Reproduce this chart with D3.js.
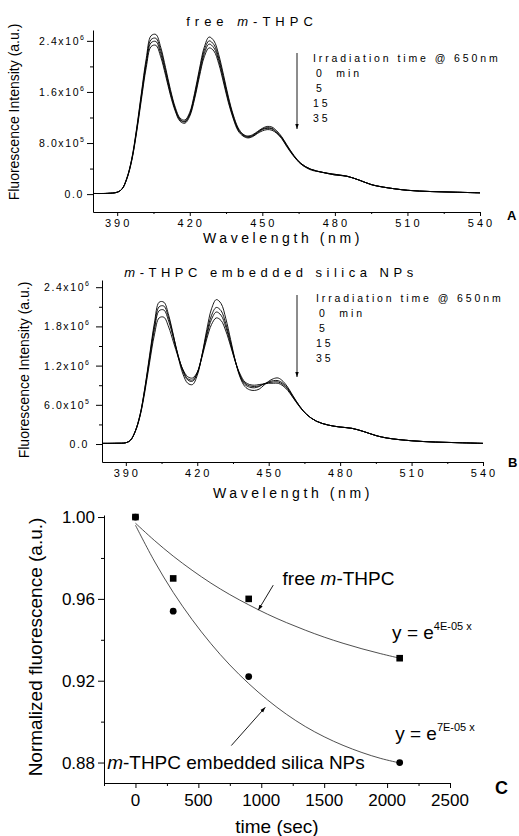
<!DOCTYPE html>
<html>
<head>
<meta charset="utf-8">
<script src="https://cdn.jsdelivr.net/npm/d3@7"></script>
<style>
body { margin: 0; background: #fff; }
svg { display: block; font-family: "Liberation Sans", Arial, sans-serif; }
.curve { fill: none; stroke: #000; stroke-width: 0.9; }
.fit { fill: none; stroke: #222; stroke-width: 0.8; }
.axis path, .axis line { stroke: #000; stroke-width: 1; }
</style>
</head>
<body>
<svg width="519" height="836"></svg>
<script>
// wavelength grid shared by both spectra (nm)
var wavelengths = [380,386,390,392,394,396,398,400,402,404,406,408,410,412,414,416,418,420,422,424,426,428,430,432,434,436,438,440,442,444,446,448,450,452,454,456,458,460,463,466,470,475,480,485,490,495,500,510,520,530,540];

// free m-THPC, intensity in 10^6 a.u.
var free0 = [0.01,0.012,0.03,0.08,0.25,0.55,1.02,1.58,2.12,2.48,2.50,2.30,1.98,1.64,1.36,1.19,1.16,1.28,1.58,1.96,2.30,2.46,2.40,2.18,1.86,1.52,1.24,1.04,0.94,0.91,0.93,0.98,1.03,1.06,1.05,0.99,0.90,0.78,0.61,0.48,0.39,0.34,0.31,0.28,0.22,0.15,0.11,0.06,0.04,0.03,0.02];
var free5 = [0.01,0.012,0.03,0.08,0.25,0.54,1.00,1.55,2.07,2.42,2.44,2.25,1.94,1.61,1.34,1.17,1.14,1.26,1.55,1.92,2.25,2.40,2.34,2.13,1.82,1.49,1.22,1.02,0.93,0.90,0.92,0.97,1.02,1.04,1.03,0.97,0.89,0.77,0.60,0.48,0.39,0.34,0.31,0.28,0.22,0.15,0.11,0.06,0.04,0.03,0.02];
var free15 = [0.01,0.012,0.03,0.08,0.24,0.53,0.98,1.52,2.03,2.37,2.39,2.20,1.90,1.58,1.32,1.16,1.13,1.24,1.52,1.88,2.20,2.35,2.29,2.09,1.78,1.46,1.20,1.01,0.92,0.89,0.91,0.96,1.01,1.03,1.02,0.96,0.88,0.76,0.60,0.47,0.39,0.34,0.30,0.28,0.22,0.15,0.11,0.06,0.04,0.03,0.02];
var free35 = [0.01,0.012,0.03,0.08,0.24,0.52,0.96,1.48,1.98,2.31,2.33,2.15,1.86,1.55,1.30,1.14,1.11,1.22,1.49,1.84,2.15,2.29,2.24,2.04,1.74,1.43,1.18,0.99,0.91,0.88,0.90,0.95,0.99,1.01,1.00,0.95,0.87,0.75,0.59,0.47,0.38,0.34,0.30,0.28,0.22,0.15,0.11,0.06,0.04,0.03,0.02];

// m-THPC embedded silica NPs, intensity in 10^6 a.u.
var nps0 = [0.01,0.012,0.02,0.06,0.20,0.45,0.86,1.36,1.85,2.17,2.17,1.97,1.66,1.33,1.07,0.93,0.91,1.05,1.36,1.75,2.07,2.21,2.15,1.92,1.60,1.27,1.02,0.88,0.83,0.82,0.84,0.90,0.96,1.00,1.01,0.96,0.87,0.75,0.58,0.45,0.35,0.29,0.26,0.24,0.19,0.13,0.09,0.05,0.03,0.02,0.01];
var nps5 = [0.01,0.012,0.02,0.06,0.20,0.45,0.85,1.33,1.80,2.10,2.11,1.93,1.65,1.35,1.11,0.98,0.96,1.08,1.36,1.70,1.97,2.09,2.04,1.84,1.56,1.27,1.04,0.91,0.87,0.86,0.88,0.92,0.95,0.97,0.97,0.93,0.85,0.74,0.58,0.45,0.35,0.29,0.26,0.24,0.19,0.13,0.09,0.05,0.03,0.02,0.01];
var nps15 = [0.01,0.012,0.02,0.06,0.20,0.44,0.83,1.30,1.75,2.04,2.05,1.88,1.62,1.35,1.13,1.00,0.98,1.09,1.35,1.66,1.91,2.02,1.97,1.79,1.53,1.26,1.05,0.93,0.89,0.88,0.89,0.92,0.94,0.95,0.95,0.91,0.84,0.73,0.57,0.45,0.35,0.29,0.26,0.24,0.19,0.13,0.09,0.05,0.03,0.02,0.01];
var nps35 = [0.01,0.012,0.02,0.06,0.19,0.43,0.80,1.25,1.67,1.93,1.94,1.79,1.56,1.33,1.14,1.03,1.01,1.10,1.33,1.61,1.83,1.93,1.89,1.73,1.50,1.26,1.07,0.95,0.91,0.90,0.91,0.92,0.93,0.93,0.93,0.89,0.82,0.72,0.57,0.45,0.35,0.29,0.26,0.24,0.19,0.13,0.09,0.05,0.03,0.02,0.01];

var irradLabels = ["0  min", "5", "15", "35"];
var xTicksSpec = [390, 420, 450, 480, 510, 540];
var xMinorSpec = [405, 435, 465, 495, 525];
var yTicksA = [0, 0.8, 1.6, 2.4];
var yMinorA = [0.4, 1.2, 2.0];
var yTicksB = [0, 0.6, 1.2, 1.8, 2.4];
var yMinorB = [0.3, 0.9, 1.5, 2.1];

// panel C: normalized fluorescence vs irradiation time
var timeSec = [0, 300, 900, 2100];
var freeNorm = [1.000, 0.970, 0.960, 0.931];
var npsNorm = [1.000, 0.954, 0.922, 0.880];
var fitTime = [0,150,300,450,600,750,900,1050,1200,1350,1500,1650,1800,1950,2100];
var freeFit = [0.997,0.9886,0.9809,0.9740,0.9677,0.9621,0.9571,0.9525,0.9484,0.9447,0.9413,0.9383,0.9356,0.9332,0.9310];
var npsFit = [0.996,0.9785,0.9632,0.9499,0.9381,0.9277,0.9186,0.9106,0.9036,0.8976,0.8926,0.8884,0.8849,0.8820,0.8798];
var xTicksC = [0, 500, 1000, 1500, 2000, 2500];
var xMinorC = [-250, 250, 750, 1250, 1750, 2250];
var yTicksC = [0.88, 0.92, 0.96, 1.00];
var yMinorC = [0.90, 0.94, 0.98];

var svg = d3.select("svg");

//arrow heads
var defs = svg.append("defs");
defs.append("marker")
    .attr("id", "head")
    .attr("viewBox", "0 0 10 10")
    .attr("refX", 10).attr("refY", 5)
    .attr("markerWidth", 6).attr("markerHeight", 6)
    .attr("orient", "auto")
    .append("path")
    .attr("d", "M0,1.5L10,5L0,8.5z")
    .attr("fill", "#000");

// 2.4 -> ["2.4x10", "6"]
function tickParts(v) {
    if (v === 0) return ["0.0", ""];
    var e = Math.floor(Math.log10(v * 1e6) + 1e-9);
    return [(v * 1e6 / Math.pow(10, e)).toFixed(1) + "x10", String(e)];
}

function drawSpectrum(p) {
    var x = d3.scaleLinear().domain([380, 540]).range([p.left, p.right]);
    var y = d3.scaleLinear().domain(p.yDomain).range([p.bottom, p.top]);
    var g = svg.append("g");

    //x axis
    g.append("g").attr("class", "axis")
        .attr("transform", "translate(0," + p.bottom + ")")
        .call(d3.axisBottom(x).tickValues(xTicksSpec).tickSize(4).tickSizeOuter(0).tickFormat(""));
    g.append("g").attr("class", "axis")
        .attr("transform", "translate(0," + p.bottom + ")")
        .call(d3.axisBottom(x).tickValues(xMinorSpec).tickSize(2).tickFormat(""))
        .select(".domain").remove();
    g.selectAll("text.xt")
        .data(xTicksSpec)
        .enter().append("text")
        .attr("class", "xt")
        .attr("x", function(d) { return x(d) + 1.5; })
        .attr("y", p.bottom + 15)
        .attr("text-anchor", "middle")
        .attr("font-size", 11)
        .attr("letter-spacing", 3)
        .text(function(d) { return d; });

    //y axis
    g.append("g").attr("class", "axis")
        .attr("transform", "translate(" + p.left + ",0)")
        .call(d3.axisLeft(y).tickValues(p.yTicks).tickSize(6).tickSizeOuter(0).tickFormat(""));
    g.append("g").attr("class", "axis")
        .attr("transform", "translate(" + p.left + ",0)")
        .call(d3.axisLeft(y).tickValues(p.yMinor).tickSize(3).tickFormat(""))
        .select(".domain").remove();
    var yt = g.selectAll("text.yt")
        .data(p.yTicks)
        .enter().append("text")
        .attr("class", "yt")
        .attr("x", p.left - p.labelGap)
        .attr("y", function(d) { return y(d) + 4; })
        .attr("text-anchor", "end")
        .attr("font-size", 10.5)
        .attr("letter-spacing", 1.6);
    yt.append("tspan").text(function(d) { return tickParts(d)[0]; });
    yt.append("tspan")
        .attr("dy", -5)
        .attr("font-size", 7)
        .attr("letter-spacing", 0)
        .text(function(d) { return tickParts(d)[1]; });

    //spectra
    var line = d3.line()
        .x(function(d, i) { return x(wavelengths[i]); })
        .y(function(d) { return y(d); })
        .curve(d3.curveCatmullRom.alpha(0.5));
    g.selectAll("path.curve")
        .data(p.series)
        .enter().append("path")
        .attr("class", "curve")
        .attr("d", line);

    //title
    var title = g.append("text")
        .attr("x", p.titleX).attr("y", p.titleY)
        .attr("text-anchor", "middle")
        .attr("font-size", 13)
        .attr("letter-spacing", p.titleSpacing);
    p.title.forEach(function(t) {
        title.append("tspan").attr("font-style", t[1] ? "italic" : null).text(t[0]);
    });

    //axis titles
    g.append("text")
        .attr("x", p.xLabelX).attr("y", p.xLabelY)
        .attr("text-anchor", "middle")
        .attr("font-size", 14)
        .attr("letter-spacing", 3.6)
        .text("Wavelength (nm)");
    g.append("text")
        .attr("transform", "translate(" + p.yLabelX + "," + p.yLabelY + ") rotate(-90)")
        .attr("text-anchor", "middle")
        .attr("font-size", 14)
        .text("Fluorescence Intensity (a.u.)");

    //legend
    g.append("line")
        .attr("x1", 297).attr("x2", 297)
        .attr("y1", p.arrowTop).attr("y2", p.arrowBottom)
        .attr("stroke", "#000").attr("stroke-width", 0.9)
        .attr("marker-end", "url(#head)");
    g.append("text")
        .attr("x", p.legX).attr("y", p.legY)
        .attr("font-size", 10.5)
        .attr("letter-spacing", 2.9)
        .text("Irradiation time @ 650nm");
    g.selectAll("text.leg")
        .data(irradLabels)
        .enter().append("text")
        .attr("class", "leg")
        .attr("x", function(d) { return d.length === 2 ? p.legX : p.legX + 3; })
        .attr("y", function(d, i) { return p.legY + 15 * (i + 1); })
        .attr("font-size", 10.5)
        .attr("letter-spacing", 2.9)
        .attr("xml:space", "preserve")
        .text(function(d) { return d; });

    //panel letter
    g.append("text")
        .attr("x", p.letterX).attr("y", p.letterY)
        .attr("font-size", 13)
        .attr("font-weight", "bold")
        .text(p.letter);
}

drawSpectrum({
    left: 93, right: 480, top: 30, bottom: 212,
    yDomain: [-0.28, 2.57],
    yTicks: yTicksA, yMinor: yMinorA, labelGap: 9,
    series: [free0, free5, free15, free35],
    title: [["free ", false], ["m", true], ["-THPC", false]],
    titleX: 252, titleY: 26, titleSpacing: 5,
    xLabelX: 283, xLabelY: 243, yLabelX: 19, yLabelY: 112,
    arrowTop: 53, arrowBottom: 129, legX: 313, legY: 62,
    letter: "A", letterX: 507, letterY: 220
});

drawSpectrum({
    left: 102, right: 483, top: 280, bottom: 462,
    yDomain: [-0.275, 2.51],
    yTicks: yTicksB, yMinor: yMinorB, labelGap: 13,
    series: [nps0, nps5, nps15, nps35],
    title: [["m", true], ["-THPC embedded silica NPs", false]],
    titleX: 271, titleY: 277, titleSpacing: 4.5,
    xLabelX: 293, xLabelY: 498, yLabelX: 29, yLabelY: 370,
    arrowTop: 295, arrowBottom: 377, legX: 316, legY: 302,
    letter: "B", letterX: 508, letterY: 467
});

//panel C
var xC = d3.scaleLinear().domain([-250, 2500]).range([104, 450]);
var yC = d3.scaleLinear().domain([0.87, 1.001]).range([783, 515]);
var gC = svg.append("g");

gC.append("g").attr("class", "axis")
    .attr("transform", "translate(0,783)")
    .call(d3.axisBottom(xC).tickValues(xTicksC).tickSize(5).tickSizeOuter(0).tickFormat(""));
gC.append("g").attr("class", "axis")
    .attr("transform", "translate(0,783)")
    .call(d3.axisBottom(xC).tickValues(xMinorC).tickSize(3).tickFormat(""))
    .select(".domain").remove();
gC.selectAll("text.xt")
    .data(xTicksC)
    .enter().append("text")
    .attr("x", function(d) { return xC(d); })
    .attr("y", 806)
    .attr("text-anchor", "middle")
    .attr("font-size", 17)
    .text(function(d) { return d; });

gC.append("g").attr("class", "axis")
    .attr("transform", "translate(104,0)")
    .call(d3.axisLeft(yC).tickValues(yTicksC).tickSize(6).tickSizeOuter(0).tickFormat(""));
gC.append("g").attr("class", "axis")
    .attr("transform", "translate(104,0)")
    .call(d3.axisLeft(yC).tickValues(yMinorC).tickSize(3).tickFormat(""))
    .select(".domain").remove();
gC.selectAll("text.yt")
    .data(yTicksC)
    .enter().append("text")
    .attr("x", 95)
    .attr("y", function(d) { return yC(d) + 6; })
    .attr("text-anchor", "end")
    .attr("font-size", 17)
    .text(function(d) { return d.toFixed(2); });

gC.append("text")
    .attr("x", 277).attr("y", 833)
    .attr("text-anchor", "middle")
    .attr("font-size", 19)
    .text("time (sec)");
gC.append("text")
    .attr("transform", "translate(42,647) rotate(-90)")
    .attr("text-anchor", "middle")
    .attr("font-size", 19)
    .text("Normalized fluorescence (a.u.)");

//fitted decays
var fitLine = d3.line()
    .x(function(d, i) { return xC(fitTime[i]); })
    .y(function(d) { return yC(d); })
    .curve(d3.curveCatmullRom.alpha(0.5));
gC.selectAll("path.fit")
    .data([freeFit, npsFit])
    .enter().append("path")
    .attr("class", "fit")
    .attr("d", fitLine);

//measured points
gC.selectAll("rect.pt")
    .data(freeNorm)
    .enter().append("rect")
    .attr("x", function(d, i) { return xC(timeSec[i]) - 3.3; })
    .attr("y", function(d) { return yC(d) - 3.3; })
    .attr("width", 6.6).attr("height", 6.6)
    .attr("fill", "#000");
gC.selectAll("circle.pt")
    .data(npsNorm)
    .enter().append("circle")
    .attr("cx", function(d, i) { return xC(timeSec[i]); })
    .attr("cy", function(d) { return yC(d); })
    .attr("r", 3.4)
    .attr("fill", "#000");

//annotations
gC.append("line")
    .attr("x1", xC(1095)).attr("y1", yC(0.9667))
    .attr("x2", xC(976)).attr("y2", yC(0.9545))
    .attr("stroke", "#000").attr("stroke-width", 0.9)
    .attr("marker-end", "url(#head)");
gC.append("line")
    .attr("x1", xC(762)).attr("y1", yC(0.8883))
    .attr("x2", xC(1032)).attr("y2", yC(0.907))
    .attr("stroke", "#000").attr("stroke-width", 0.9)
    .attr("marker-end", "url(#head)");

var freeLab = gC.append("text")
    .attr("x", xC(1169)).attr("y", yC(0.967))
    .attr("font-size", 19);
freeLab.append("tspan").text("free ");
freeLab.append("tspan").attr("font-style", "italic").text("m");
freeLab.append("tspan").text("-THPC");

var npsLab = gC.append("text")
    .attr("x", xC(-225)).attr("y", yC(0.8766))
    .attr("font-size", 19);
npsLab.append("tspan").attr("font-style", "italic").text("m");
npsLab.append("tspan").text("-THPC embedded silica NPs");

var eqFree = gC.append("text")
    .attr("x", xC(2040)).attr("y", yC(0.9403))
    .attr("font-size", 19);
eqFree.append("tspan").text("y = e");
eqFree.append("tspan").attr("dy", -9).attr("font-size", 11).text("4E-05 x");

var eqNps = gC.append("text")
    .attr("x", xC(2064)).attr("y", yC(0.8908))
    .attr("font-size", 19);
eqNps.append("tspan").text("y = e");
eqNps.append("tspan").attr("dy", -9).attr("font-size", 11).text("7E-05 x");

gC.append("text")
    .attr("x", 495).attr("y", 794)
    .attr("font-size", 18)
    .attr("font-weight", "bold")
    .text("C");
</script>
</body>
</html>
